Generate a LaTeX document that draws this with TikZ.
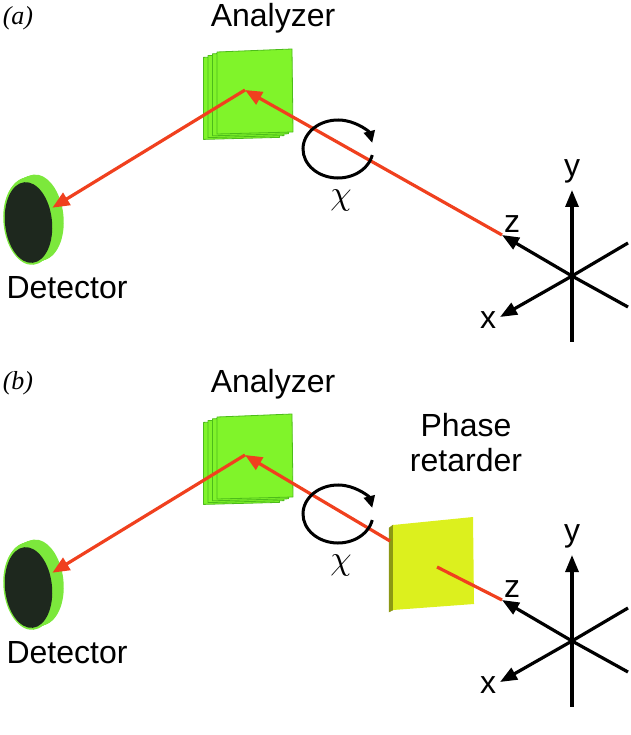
\documentclass[tikz,border=0pt]{standalone}
\usepackage{fontspec}
\setmainfont{Liberation Sans}
\newfontfamily\tmsfont{Liberation Serif}
\usetikzlibrary{arrows.meta,shapes.geometric}

\definecolor{beamred}{HTML}{F0401E}
\definecolor{platefill}{HTML}{80F42A}
\definecolor{plateedge}{HTML}{4CBC1A}
\definecolor{detrim}{HTML}{7CE83C}
\definecolor{detface}{HTML}{1E281E}
\definecolor{retfill}{HTML}{DCF01E}
\definecolor{retside}{HTML}{8C9814}

\tikzset{
    beam/.style={beamred, line width=3.2pt, -{Triangle[length=17pt,width=14pt]}},
    axis/.style={black, line width=3.2pt, -{Triangle[length=17pt,width=13pt]}},
    txt/.style={font=\fontsize{32}{35}\selectfont, inner sep=0pt},
    plate/.style={fill=platefill, draw=plateedge, line width=0.8pt, line join=round},
    disk/.style={ellipse, inner sep=0pt, rotate=6, line width=0.5pt}
}

\begin{document}
\begin{tikzpicture}[x=1pt, y=-1pt]
    \useasboundingbox (0,0) rectangle (630,735);
    \foreach \p/\dy in {a/0, b/365}{
    \begin{scope}[shift={(0,\dy)}]
        \node[font=\tmsfont\itshape\fontsize{26}{28}\selectfont, inner sep=0pt] (tag\p) at (18,18) {(\p)};
        % analyzer
        \foreach \k in {3,2,1,0}
            \draw[plate] (217-4.5*\k,52+1.8*\k) -- (292-4.5*\k,49+1.8*\k) -- (293-4.5*\k,132+1.8*\k) -- (217-4.5*\k,134+1.8*\k) -- cycle;
        \coordinate (ana\p) at (245,90);
        \node[txt, anchor=base] (anaTxt\p) at (273,27) {Analyzer};
        % detector
        \foreach \s in {9,...,1}
            \node[disk, fill=detrim, minimum width=51, minimum height=86] at (29+\s,221-0.4*\s) {};
        \node[disk, fill=detrim, minimum width=51, minimum height=86] (det\p) at (29,222) {};
        \node[disk, fill=detface, minimum width=47, minimum height=81] at (28.5,222.5) {};
        \node[txt, anchor=base] (detTxt\p) at (67,298) {Detector};
        % axes
        \coordinate (O\p) at (572,276);
        \coordinate (yb\p) at (572,342);
        \coordinate (yt\p) at (572,190);
        \coordinate (xe\p) at (628,243);
        \coordinate (xt\p) at (500,317);
        \coordinate (ze\p) at (628,307);
        \coordinate (zt\p) at (502,235);
    \end{scope}
    }
    % (a): beam straight to the analyzer
    \draw[beam] (zta) -- (anaa);
    \draw[beam] (anaa) -- (deta);
    % (b): phase retarder in the beam
    \begin{scope}[shift={(0,365)}]
        \draw[fill=retside, draw=retside] (389,163) -- (393,160) -- (393,245) -- (389,247) -- cycle;
        \fill[retfill] (393,160) -- (473,152) -- (474,239) -- (393,245) -- cycle;
        \coordinate (retIn) at (437,202);
        \coordinate (retOut) at (390,176);
        \node[txt, align=center, anchor=base] (retTxt) at (466,106) {Phase\\retarder};
    \end{scope}
    \draw[beamred, line width=3.2pt] (ztb) -- (retIn);
    \draw[beam] (retOut) -- (anab);
    \draw[beam] (anab) -- (detb);
    \foreach \p/\dy in {a/0, b/365}{
    \begin{scope}[shift={(0,\dy)}]
        % rotation chi
        \coordinate (chiC\p) at (338,149);
        \draw[line width=3pt, -{Triangle[length=12pt,width=11pt]}] (chiC\p) ++(12:35 and 29) arc[start angle=12, end angle=348, x radius=35, y radius=29];
        \node[scale=3.4, inner sep=0pt] (chi\p) at (341,200) {$\chi$};
        % axes
        \draw[black, line width=3.2pt] (O\p) -- (yb\p);
        \draw[axis] (O\p) -- (yt\p);
        \draw[black, line width=3.2pt] (O\p) -- (xe\p);
        \draw[axis] (O\p) -- (xt\p);
        \draw[black, line width=3.2pt] (O\p) -- (ze\p);
        \draw[axis] (O\p) -- (zt\p);
        \node[txt] (yl\p) at (572,171) {y};
        \node[txt] (xl\p) at (488,320) {x};
        \node[txt] (zl\p) at (512,224) {z};
    \end{scope}
    }
\end{tikzpicture}
\end{document}
